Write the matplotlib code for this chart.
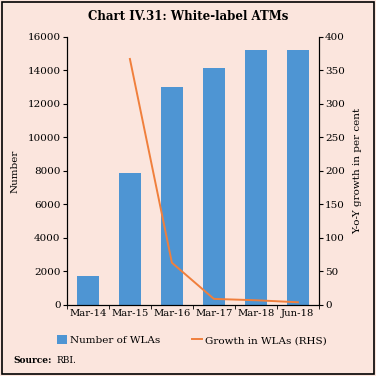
import matplotlib
matplotlib.use("Agg")
import matplotlib.pyplot as plt
from matplotlib.patches import Rectangle

# data
periods = ["Mar-14", "Mar-15", "Mar-16", "Mar-17", "Mar-18", "Jun-18"]
wla_count = [1700, 7850, 13000, 14150, 15200, 15200]
growth_periods = ["Mar-15", "Mar-16", "Mar-17", "Mar-18", "Jun-18"]
growth_pct = [367, 63, 9, 7, 4]

BG = "#fbe5dd"
BLUE = "#4e95d3"
ORANGE = "#f07f3c"

plt.rcParams["font.family"] = ["DejaVu Serif"]

fig = plt.figure(figsize=(3.76, 3.76), dpi=100, facecolor=BG)
fig.patches.append(Rectangle((0.004, 0.004), 0.992, 0.992, transform=fig.transFigure,
                             fill=False, edgecolor="black", lw=1.2))

ax = fig.add_axes([0.178, 0.189, 0.670, 0.713])
ax.set_facecolor(BG)
x = range(len(periods))
bars = ax.bar(x, wla_count, width=0.52, color=BLUE, label="Number of WLAs")
ax.set_xlim(-0.5, len(periods) - 0.5)
ax.set_ylim(0, 16000)
ax.set_yticks(range(0, 16001, 2000))
ax.set_xticks(list(x))
ax.set_xticklabels(periods, fontsize=7.2)
ax.set_xticks([i + 0.5 for i in range(-1, len(periods))], minor=True)
ax.tick_params(axis="x", which="major", length=0, pad=3)
ax.tick_params(axis="x", which="minor", length=3, direction="out")
ax.tick_params(axis="y", labelsize=7.5, length=3, pad=1.5)
ax.set_ylabel("Number", fontsize=7.5, labelpad=6)
ax.spines["top"].set_visible(False)

ax2 = ax.twinx()
gx = [periods.index(p) for p in growth_periods]
line, = ax2.plot(gx, growth_pct, color=ORANGE, lw=1.4, label="Growth in WLAs (RHS)")
ax2.set_ylim(0, 400)
ax2.set_yticks(range(0, 401, 50))
ax2.tick_params(axis="y", labelsize=7.5, length=3, pad=1.5)
ax2.set_ylabel("Y-o-Y growth in per cent", fontsize=7.5, labelpad=6)
ax2.spines["top"].set_visible(False)

fig.text(0.5, 0.955, "Chart IV.31: White-label ATMs", ha="center", va="center",
         fontsize=8.5, fontweight="bold")
fig.legend([bars, line], ["Number of WLAs", "Growth in WLAs (RHS)"],
           loc="center", bbox_to_anchor=(0.51, 0.095), ncol=2, frameon=False,
           fontsize=7.5, handlelength=1.0, handleheight=1.0, columnspacing=3.0,
           handletextpad=0.3)
fig.text(0.035, 0.04, "Source:", fontsize=6.5, fontweight="bold", ha="left", va="center")
fig.text(0.15, 0.04, "RBI.", fontsize=6.5, ha="left", va="center")

fig.savefig("out.png", dpi=100, facecolor=BG)
